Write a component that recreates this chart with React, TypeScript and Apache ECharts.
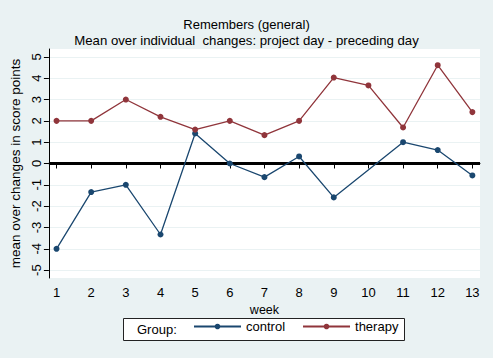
import React, { useEffect, useRef } from "react";
import * as echarts from "echarts";

const weeks = [1, 2, 3, 4, 5, 6, 7, 8, 9, 10, 11, 12, 13];
const control: (number | null)[] = [-4, -1.34, -1, -3.33, 1.41, 0, -0.64, 0.33, -1.59, null, 1, 0.63, -0.56];
const therapy = [2, 2, 3, 2.19, 1.59, 2, 1.33, 2, 4.03, 3.66, 1.69, 4.61, 2.41];
const yTicks = [-5, -4, -3, -2, -1, 0, 1, 2, 3, 4, 5];

const FONT = "Liberation Sans, Arial, sans-serif";

export default function App() {
  const ref = useRef<HTMLDivElement>(null);
  useEffect(() => {
    if (!ref.current) return;
    const chart = echarts.init(ref.current, undefined, { renderer: "svg" });
    chart.setOption({
      animation: false,
      backgroundColor: "#eaf2f3",
      textStyle: { fontFamily: FONT },
      title: {
        text: "Remembers (general)",
        subtext: "Mean over individual  changes: project day - preceding day",
        left: "center",
        top: 13,
        itemGap: 3,
        textStyle: { fontFamily: FONT, fontSize: 13, fontWeight: "normal", color: "#000" },
        subtextStyle: { fontFamily: FONT, fontSize: 13.2, color: "#000" },
      },
      grid: {
        left: 48,
        right: 13,
        top: 49,
        bottom: 80,
        show: true,
        backgroundColor: "#ffffff",
        borderWidth: 0,
      },
      xAxis: {
        type: "value",
        min: 0.78,
        max: 13.22,
        name: "week",
        nameLocation: "middle",
        nameGap: 23,
        nameTextStyle: { fontFamily: FONT, fontSize: 12.5, color: "#000" },
        axisLine: { lineStyle: { color: "#000", width: 1 } },
        axisTick: { customValues: weeks, length: 5, lineStyle: { color: "#000" } },
        axisLabel: { customValues: weeks, fontFamily: FONT, fontSize: 13, color: "#000", margin: 8 },
        splitLine: { show: false },
      },
      yAxis: {
        type: "value",
        min: -5.37,
        max: 5.37,
        name: "mean over changes in score points",
        nameLocation: "middle",
        nameGap: 26,
        nameTextStyle: { fontFamily: FONT, fontSize: 13.5, color: "#000" },
        axisLine: { show: true, lineStyle: { color: "#000", width: 1 } },
        axisTick: { show: true, customValues: yTicks, length: 5, lineStyle: { color: "#000" } },
        axisLabel: { customValues: yTicks, rotate: 90, fontFamily: FONT, fontSize: 13, color: "#000", margin: 6 },
        splitLine: { show: true, lineStyle: { color: "#eaf2f3", width: 1 } },
      },
      legend: {
        data: ["control", "therapy"],
        left: 193,
        top: 320,
        itemWidth: 47,
        itemHeight: 7,
        itemGap: 17,
        padding: 0,
        textStyle: { fontFamily: FONT, fontSize: 13, color: "#000" },
      },
      graphic: [
        {
          type: "rect",
          shape: { x: 123.5, y: 318.5, width: 281, height: 22 },
          style: { fill: "#ffffff", stroke: "#222", lineWidth: 1 },
          z: -1,
        },
        {
          type: "text",
          x: 137,
          y: 329.5,
          style: { text: "Group:", fontFamily: FONT, fontSize: 13, fill: "#000", verticalAlign: "middle" },
        },
      ],
      series: [
        {
          name: "control",
          type: "line",
          data: weeks.map((w, i) => [w, control[i]]),
          connectNulls: true,
          symbol: "circle",
          symbolSize: 6,
          lineStyle: { color: "#1a476f", width: 1.3 },
          itemStyle: { color: "#1a476f" },
          z: 3,
        },
        {
          name: "therapy",
          type: "line",
          data: weeks.map((w, i) => [w, therapy[i]]),
          symbol: "circle",
          symbolSize: 6,
          lineStyle: { color: "#90353b", width: 1.3 },
          itemStyle: { color: "#90353b" },
          z: 3,
          markLine: {
            silent: true,
            symbol: "none",
            label: { show: false },
            lineStyle: { color: "#000", width: 2.8, type: "solid" },
            data: [{ yAxis: 0 }],
            z: 2,
          },
        },
      ],
    });
    return () => chart.dispose();
  }, []);
  return <div ref={ref} style={{ position: "fixed", left: 0, top: 0, width: 493, height: 358 }} />;
}
